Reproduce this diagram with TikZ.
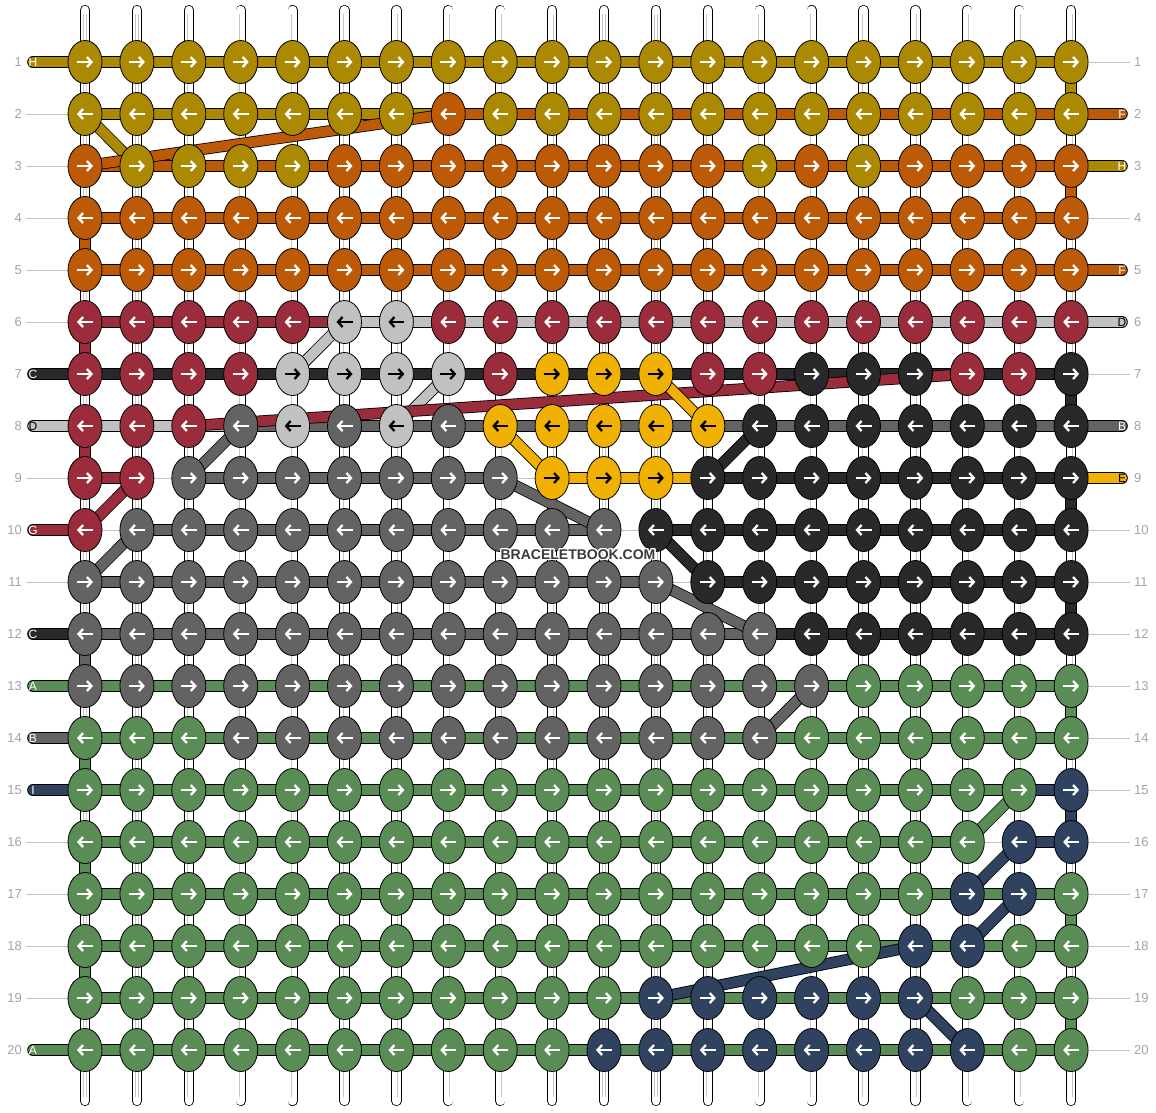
\documentclass[tikz,border=0pt]{standalone}
\usepackage{fontspec}
\setmainfont{Liberation Sans}
\usepackage{xstring}
\usepackage{contour}
\usepackage{tikz}
\usetikzlibrary{shapes.geometric,arrows.meta}
\pgfdeclarelayer{strings}
\pgfdeclarelayer{cords}
\pgfsetlayers{strings,cords,main}
\definecolor{cM}{HTML}{AC8903}
\definecolor{cO}{HTML}{BC5A07}
\definecolor{cR}{HTML}{9A2C3C}
\definecolor{cS}{HTML}{C1C1C1}
\definecolor{cK}{HTML}{29282B}
\definecolor{cG}{HTML}{636363}
\definecolor{cY}{HTML}{F0B103}
\definecolor{cN}{HTML}{5A8D56}
\definecolor{cV}{HTML}{2F4361}
\colorlet{aM}{white}\colorlet{aO}{white}\colorlet{aR}{white}
\colorlet{aK}{white}\colorlet{aG}{white}\colorlet{aN}{white}
\colorlet{aV}{white}\colorlet{aS}{black}\colorlet{aY}{black}
\definecolor{rowgray}{HTML}{A3A3A3}
\definecolor{linegray}{HTML}{C2C2C2}
\definecolor{wmgray}{HTML}{3A3A3A}
\contourlength{1.2pt}
\tikzset{
  knot/.style={ellipse,draw=black,line width=0.8pt,minimum width=34pt,minimum height=43pt,inner sep=0pt},
  cord/.style={draw=black,line width=0.8pt,double distance=10pt},
  warp/.style={draw=black,line width=0.8pt,double=white,double distance=8.6pt,line cap=round},
  warpmid/.style={draw=black!22,line width=0.6pt,double=white,double distance=2pt,shorten <=4pt,shorten >=4pt},
  thread/.style={line width=1pt,draw=linegray},
  knotarrow/.style={line width=2.3pt,-{Straight Barb[length=4.5pt,width=10pt]}},
  rowno/.style={text=rowgray,inner sep=0pt,font=\fontsize{13pt}{13pt}\selectfont},
  tag/.style={inner sep=0pt,font=\fontsize{12pt}{12pt}\selectfont},
  wmark/.style={text=wmgray,inner sep=0pt,font=\bfseries\fontsize{14pt}{14pt}\selectfont}
}
\def\braceletrows{
  1/MMMMMMMMMMMMMMMMMMMM/MMMMMMMMMMMMMMMMMMM/M/H/-/-,
  2/MMMMMMMOMMMMMMMMMMMM/MMMMMMMOOOOOOOOOOOO/-/-/O/F,
  3/OMMMMOOOOOOOOMOMOOOO/OOOOOOOOOOOOOOOOOOO/-/-/M/H,
  4/OOOOOOOOOOOOOOOOOOOO/OOOOOOOOOOOOOOOOOOO/-/-/-/-,
  5/OOOOOOOOOOOOOOOOOOOO/OOOOOOOOOOOOOOOOOOO/-/-/O/F,
  6/RRRRRSSRRRRRRRRRRRRR/RRRRRSSSSSSSSSSSSSS/-/-/S/D,
  7/RRRRSSSSRYYYRRKKKRRK/KKKKKKKKKKKKKKKKKKK/K/C/-/-,
  8/RRRGSGSGYYYYYKKKKKKK/SSSGGGGGGGGGGGGGGGG/S/D/G/B,
  9/RRGGGGGGGYYYKKKKKKKK/RtGGGGGGtYYYKKKKKKK/-/-/Y/E,
  10/RGGGGGGGGGGKKKKKKKKK/tGGGGGGGGGtKKKKKKKK/R/G/-/-,
  11/GGGGGGGGGGGGKKKKKKKK/GGGGGGGGGGGtKKKKKKK/-/-/-/-,
  12/GGGGGGGGGGGGGGKKKKKK/GGGGGGGGGGGGGKKKKKK/K/C/-/-,
  13/GGGGGGGGGGGGGGGNNNNN/NNNNNNNNNNNNNNNNNNN/N/A/-/-,
  14/NNNGGGGGGGGGGGNNNNNN/NNNNNNNNNNNNNNNNNNN/G/B/-/-,
  15/NNNNNNNNNNNNNNNNNNNV/NNNNNNNNNNNNNNNNNNV/V/I/-/-,
  16/NNNNNNNNNNNNNNNNNNVV/NNNNNNNNNNNNNNNNNtV/-/-/-/-,
  17/NNNNNNNNNNNNNNNNNVVN/NNNNNNNNNNNNNNNNNNN/-/-/-/-,
  18/NNNNNNNNNNNNNNNNVVNN/NNNNNNNNNNNNNNNNNNN/-/-/-/-,
  19/NNNNNNNNNNNVVVVVVNNN/NNNNNNNNNNNNNNNNNNN/-/-/-/-,
  20/NNNNNNNNNNVVVVVVVVNN/NNNNNNNNNNNNNNNNNNN/N/A/-/-}
\begin{document}
\begin{tikzpicture}[x=1pt,y=-1pt]
\useasboundingbox (0,0) rectangle (1156,1112);
\begin{pgfonlayer}{strings}
\foreach \p in {1,...,20}{
  \pgfmathsetmacro\x{85+51.9*(\p-1)}
  \coordinate (top_\p) at (\x,10);
  \coordinate (bot_\p) at (\x,1101);
  \draw[warp] (top_\p) -- (bot_\p);
  \draw[warpmid] (top_\p) -- (bot_\p);
}
\end{pgfonlayer}
\foreach \r/\kn/\sg/\lf/\lt/\rf/\rt in \braceletrows{
  \pgfmathsetmacro\y{62+52*(\r-1)}
  \pgfmathsetmacro\ax{8-16*mod(\r+1,2)}
  \pgfmathsetmacro\bx{16*mod(\r+1,2)-8}
  \node[rowno,anchor=east] (ln_\r) at (22,\y) {\r};
  \node[rowno,anchor=west] (rn_\r) at (1134,\y) {\r};
  \coordinate (ls_\r) at (33,\y);
  \coordinate (rs_\r) at (1122,\y);
  \foreach \i in {1,...,20}{
    \StrChar{\kn}{\i}[\kc]
    \pgfmathsetmacro\x{85+51.9*(\i-1)}
    \node[knot,fill=c\kc] (k_\r_\i) at (\x,\y) {};
    \draw[knotarrow,draw=a\kc] ([xshift=\bx pt]k_\r_\i.center) -- ([xshift=\ax pt]k_\r_\i.center);
  }
  \if -\lf\else\node[tag,text=a\lf] (lt_\r) at (ls_\r) {\lt};\fi
  \if -\rf\else\node[tag,text=a\rf] (rt_\r) at (rs_\r) {\rt};\fi
}
\begin{pgfonlayer}{cords}
\foreach \r/\kn/\sg/\lf/\lt/\rf/\rt in \braceletrows{
  \foreach \i in {2,...,20}{
    \pgfmathtruncatemacro\j{\i-1}
    \StrChar{\sg}{\j}[\sc]
    \if t\sc
      \draw[thread] (k_\r_\j) -- (k_\r_\i);
    \else
      \draw[cord,double=c\sc] (k_\r_\j.center) -- (k_\r_\i.center);
    \fi
  }
  \if -\lf
    \draw[thread] ([xshift=4pt]ln_\r.east) -- (k_\r_1);
  \else
    \draw[cord,double=c\lf,line cap=round] (ls_\r) -- (k_\r_1.center);
  \fi
  \if -\rf
    \draw[thread] ([xshift=-4pt]rn_\r.west) -- (k_\r_20);
  \else
    \draw[cord,double=c\rf,line cap=round] (k_\r_20.center) -- (rs_\r);
  \fi
}
% turns at the edges and crossing threads
\foreach \p/\q/\s in {1_20/2_20/M, 3_20/4_20/O, 7_20/8_20/K, 9_20/10_20/K,
  11_20/12_20/K, 13_20/14_20/N, 15_20/16_20/V, 17_20/18_20/N, 19_20/20_20/N,
  4_1/5_1/O, 6_1/7_1/R, 8_1/9_1/R, 12_1/13_1/G, 14_1/15_1/N, 16_1/17_1/N, 18_1/19_1/N,
  2_1/3_2/M, 3_1/2_8/O, 7_5/6_6/S, 8_7/7_8/S, 8_3/7_18/R, 8_9/9_10/Y, 7_12/8_13/Y,
  8_14/9_13/K, 8_4/9_3/G, 9_2/10_1/R, 10_2/11_1/G, 9_9/10_11/G, 10_12/11_13/K,
  11_12/12_14/G, 14_14/13_15/G, 16_18/15_19/N, 16_19/17_18/V, 17_19/18_18/V,
  18_17/19_12/V, 19_17/20_18/V}{
  \draw[cord,double=c\s] (k_\p.center) -- (k_\q.center);
}
\end{pgfonlayer}
\node[wmark] (wm) at (578,555) {\contour{white}{BRACELETBOOK.COM}};
\end{tikzpicture}
\end{document}
